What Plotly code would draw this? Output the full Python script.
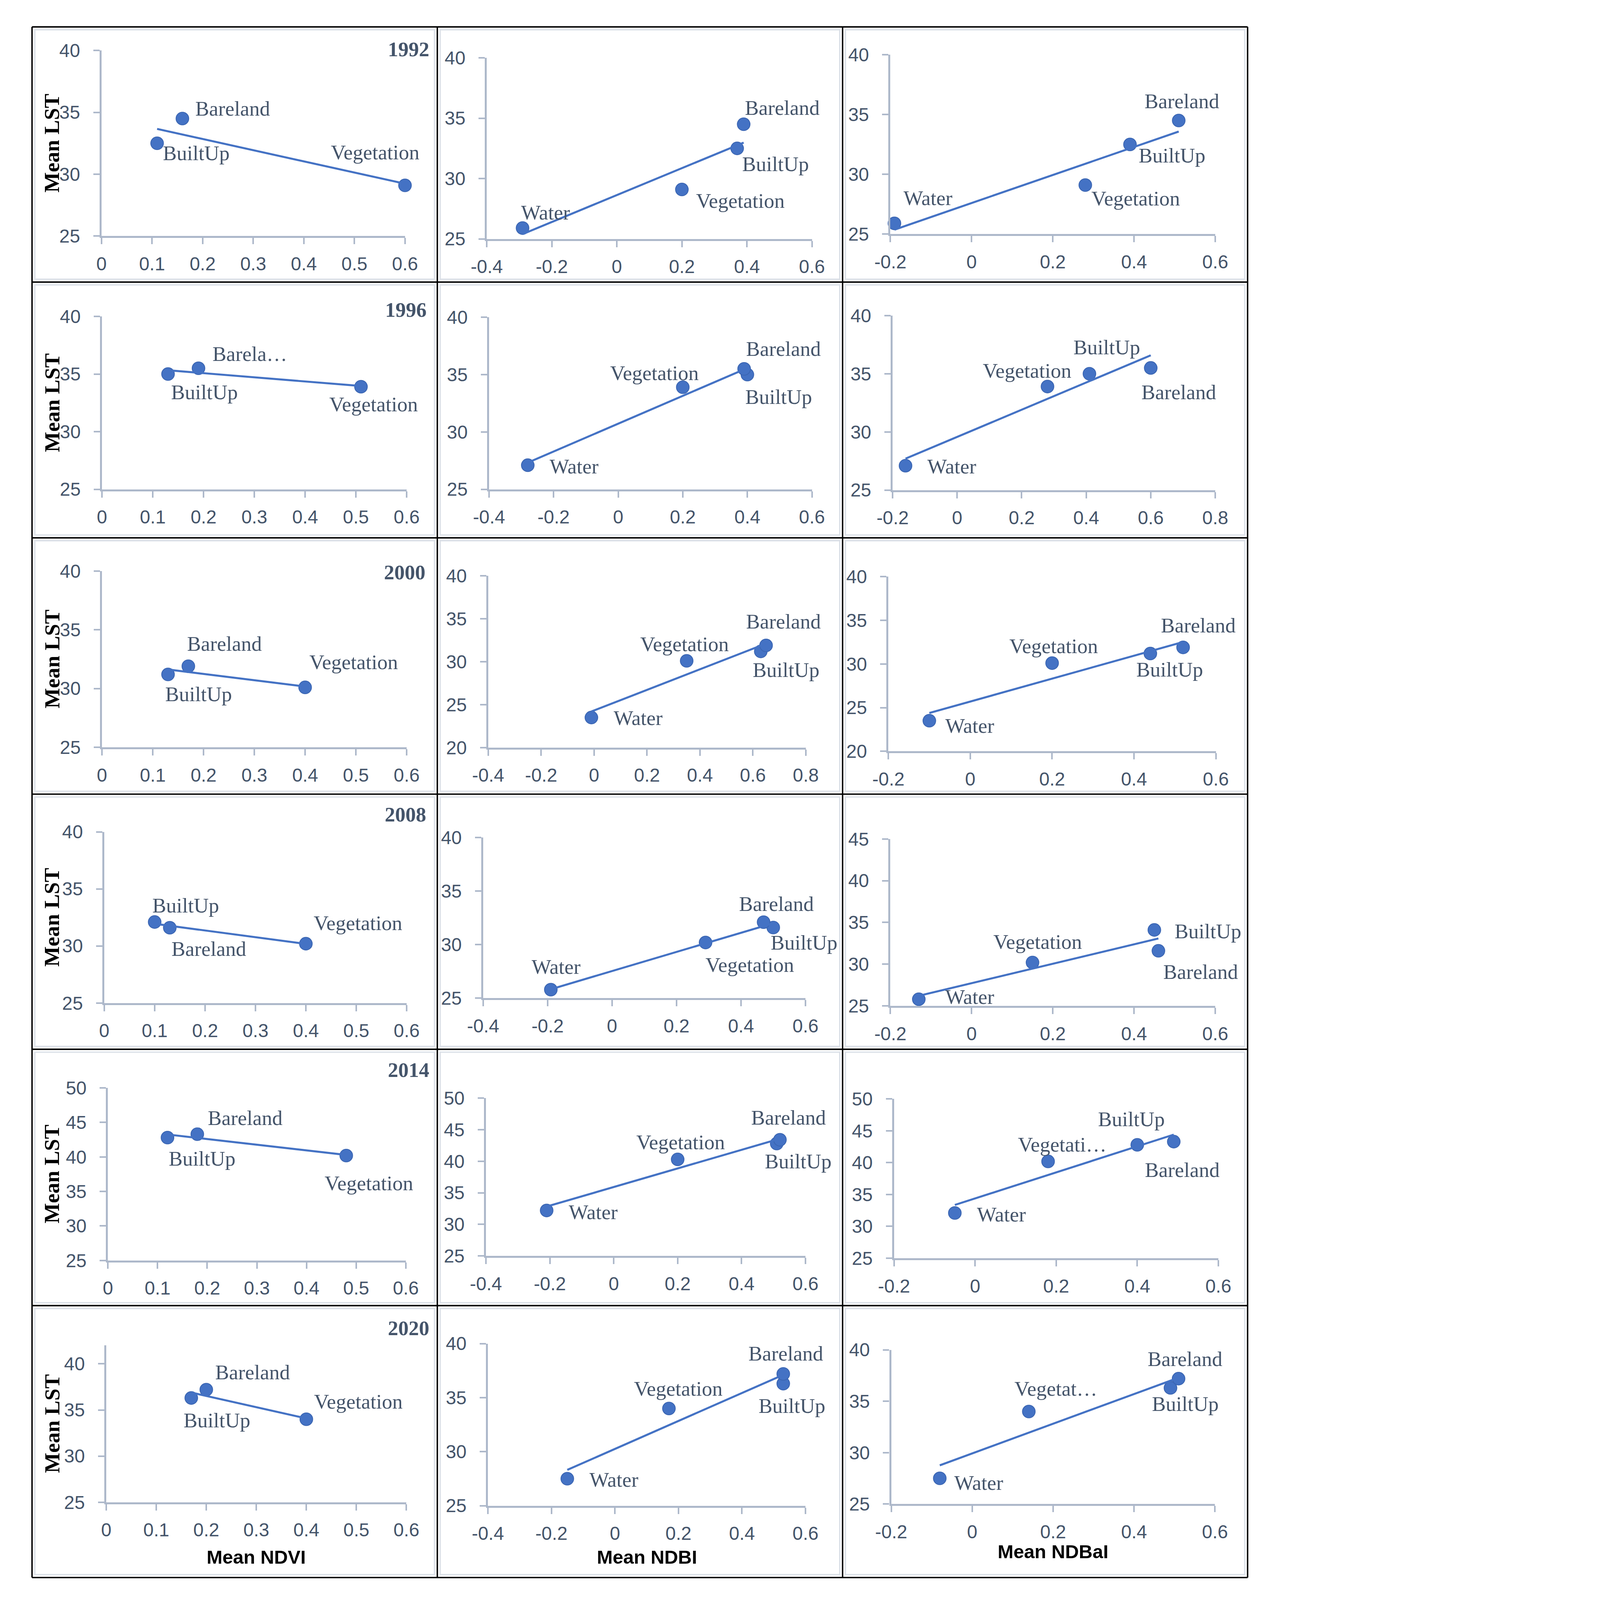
import numpy as np
import plotly.graph_objects as go

# ---------------- data ----------------
years = ["1992", "1996", "2000", "2008", "2014", "2020"]

# NDVI panels: order BuiltUp, Bareland, Vegetation
ndvi_x = [[0.11, 0.16, 0.60], [0.13, 0.19, 0.51], [0.13, 0.17, 0.40],
          [0.10, 0.13, 0.40], [0.12, 0.18, 0.48], [0.17, 0.20, 0.40]]
ndvi_lst = [[32.5, 34.5, 29.1], [35.0, 35.5, 33.9], [31.2, 31.9, 30.1],
            [32.1, 31.6, 30.2], [42.8, 43.3, 40.2], [36.3, 37.2, 34.0]]
ndvi_text = [["BuiltUp", "Bareland", "Vegetation"], ["BuiltUp", "Barela…", "Vegetation"],
             ["BuiltUp", "Bareland", "Vegetation"], ["BuiltUp", "Bareland", "Vegetation"],
             ["BuiltUp", "Bareland", "Vegetation"], ["BuiltUp", "Bareland", "Vegetation"]]

# NDBI panels: order Water, Vegetation, BuiltUp, Bareland
ndbi_x = [[-0.29, 0.20, 0.37, 0.39], [-0.28, 0.20, 0.40, 0.39], [-0.01, 0.35, 0.63, 0.65],
          [-0.19, 0.29, 0.50, 0.47], [-0.21, 0.20, 0.51, 0.52], [-0.15, 0.17, 0.53, 0.53]]
ndbi_lst = [[25.9, 29.1, 32.5, 34.5], [27.1, 33.9, 35.0, 35.5], [23.5, 30.1, 31.2, 31.9],
            [25.8, 30.2, 31.6, 32.1], [32.2, 40.3, 42.8, 43.4], [27.5, 34.0, 36.3, 37.2]]
ndbi_text = [["Water", "Vegetation", "BuiltUp", "Bareland"]] * 6

# NDBaI panels: order Water, Vegetation, BuiltUp, Bareland
ndbai_x = [[-0.19, 0.28, 0.39, 0.51], [-0.16, 0.28, 0.41, 0.60], [-0.10, 0.20, 0.44, 0.52],
           [-0.13, 0.15, 0.45, 0.46], [-0.05, 0.18, 0.40, 0.49], [-0.08, 0.14, 0.49, 0.51]]
ndbai_lst = [[25.9, 29.1, 32.5, 34.5], [27.1, 33.9, 35.0, 35.5], [23.5, 30.1, 31.2, 31.9],
             [25.8, 30.2, 34.1, 31.6], [32.1, 40.2, 42.8, 43.3], [27.5, 34.0, 36.3, 37.2]]
ndbai_text = [["Water", "Vegetation", "BuiltUp", "Bareland"],
              ["Water", "Vegetation", "BuiltUp", "Bareland"],
              ["Water", "Vegetation", "BuiltUp", "Bareland"],
              ["Water", "Vegetation", "BuiltUp", "Bareland"],
              ["Water", "Vegetati…", "BuiltUp", "Bareland"],
              ["Water", "Vegetat…", "BuiltUp", "Bareland"]]

x_titles = ["Mean NDVI", "Mean NDBI", "Mean NDBaI"]
y_title = "Mean LST"

x_ranges = [
    [[0, 0.6], [-0.4, 0.6], [-0.2, 0.6]],
    [[0, 0.6], [-0.4, 0.6], [-0.2, 0.8]],
    [[0, 0.6], [-0.4, 0.8], [-0.2, 0.6]],
    [[0, 0.6], [-0.4, 0.6], [-0.2, 0.6]],
    [[0, 0.6], [-0.4, 0.6], [-0.2, 0.6]],
    [[0, 0.6], [-0.4, 0.6], [-0.2, 0.6]],
]
x_dticks = [0.1, 0.2, 0.2]
y_ranges = [
    [[25, 40], [25, 40], [25, 40]],
    [[25, 40], [25, 40], [25, 40]],
    [[25, 40], [20, 40], [20, 40]],
    [[25, 40], [25, 40], [25, 45]],
    [[25, 50], [25, 50], [25, 50]],
    [[25, 42], [25, 40], [25, 40]],
]
y_dtick = 5

# ---------------- layout / style ----------------
# positions below are in reference-image pixels (4442 x 5564); the figure is
# scaled uniformly so that it fits the 4096 px tall browser viewport.
W, H = 4442, 5564
S = 4096 / H
FIG_W, FIG_H = int(round(W * S)), int(round(H * S))

areas = [
    [[304, 1384, 142, 796], [1675, 2832, 168, 806], [3111, 4267, 157, 789]],
    [[306, 1390, 1079, 1688], [1683, 2832, 1082, 1688], [3119, 4267, 1076, 1691]],
    [[306, 1390, 1976, 2597], [1680, 2810, 1993, 2598], [3104, 4269, 1996, 2611]],
    [[314, 1390, 2895, 3498], [1662, 2809, 2915, 3481], [3111, 4267, 2920, 3508]],
    [[327, 1387, 3797, 4405], [1672, 2809, 3833, 4389], [3124, 4278, 3836, 4397]],
    [[321, 1389, 4704, 5257], [1679, 2809, 4698, 5269], [3114, 4266, 4720, 5263]],
]
ndvi_off = [[(136, 34), (175, -35), (-104, -115)],
            [(127, 63), (178, -50), (44, 61)],
            [(106, 68), (126, -78), (169, -88)],
            [(108, -58), (136, 74), (181, -72)],
            [(120, 73), (166, -56), (79, 96)],
            [(90, 78), (161, -60), (181, -61)]]
ndbi_off = [[(81, -54), (204, 39), (133, 55), (134, -57)],
            [(161, 4), (-98, -49), (109, 78), (137, -70)],
            [(163, 2), (-8, -58), (88, 65), (60, -83)],
            [(19, -80), (154, 78), (107, 52), (44, -64)],
            [(162, 6), (11, -60), (75, 62), (30, -77)],
            [(163, 3), (33, -69), (31, 78), (9, -71)]]
ndbai_off = [[(117, -88), (176, 46), (147, 38), (11, -67)],
             [(162, 2), (-71, -55), (60, -92), (97, 84)],
             [(141, 17), (6, -59), (68, 56), (53, -76)],
             [(178, -8), (18, -72), (187, 5), (146, 73)],
             [(163, 5), (49, -59), (-20, -90), (29, 98)],
             [(136, 16), (94, -80), (52, 55), (22, -68)]]
year_pos = [(1473, 138), (1464, 1055), (1459, 1981), (1462, 2834), (1473, 3733), (1473, 4643)]
xtitle_y = [5450, 5450, 5431]
col_edges = [57, 1499, 2941, 4382]
row_edges = [59, 958, 1859, 2762, 3661, 4564, 5522]

BLUE = "#4472C4"
AX = "#ADB8CA"
TXT = "#44546A"


def z(v):
    return v * S


def zi(v):
    return int(round(v * S))


TICKFONT = dict(family="Liberation Sans, Arial", size=z(65), color=TXT)
LABFONT = dict(family="Liberation Serif, Times New Roman", size=z(72), color=TXT)


def px_x(v):
    return v / W


def px_y(v):
    return 1 - v / H


fig = go.Figure()
layout = dict(width=FIG_W, height=FIG_H, margin=dict(l=0, r=0, t=0, b=0),
              paper_bgcolor="white", plot_bgcolor="white", showlegend=False)
annotations = []
shapes = []

panels = [(ndvi_x, ndvi_lst, ndvi_text, ndvi_off),
          (ndbi_x, ndbi_lst, ndbi_text, ndbi_off),
          (ndbai_x, ndbai_lst, ndbai_text, ndbai_off)]

for r in range(6):
    for c in range(3):
        n = r * 3 + c + 1
        xs = "" if n == 1 else str(n)
        xa, ya = "x" + xs, "y" + xs
        xd, yd, td, od = panels[c]
        px_ = np.array(xd[r], dtype=float)
        py_ = np.array(yd[r], dtype=float)
        L, R, T, B = areas[r][c]
        xr = x_ranges[r][c]
        yr = y_ranges[r][c]
        dt = x_dticks[c]
        xt = np.round(np.arange(xr[0], xr[1] + dt / 2, dt), 2)
        yt = np.arange(yr[0], yr[1] + 0.01, y_dtick)
        yt = yt[yt <= yr[1]]
        common = dict(showline=True, linecolor=AX, linewidth=z(7), ticks="outside",
                      ticklen=zi(22), tickwidth=z(6), tickcolor=AX, showgrid=False,
                      zeroline=False, tickfont=TICKFONT, fixedrange=True)
        layout["xaxis" + xs] = dict(domain=[px_x(L), px_x(R)], range=xr, anchor=ya,
                                    tickvals=list(xt), ticktext=[f"{v:g}" for v in xt],
                                    ticklabelstandoff=zi(12), **common)
        layout["yaxis" + xs] = dict(domain=[px_y(B), px_y(T)], range=yr, anchor=xa,
                                    tickvals=list(yt), ticktext=[f"{v:g}" for v in yt],
                                    ticklabelstandoff=zi(32), **common)
        fig.add_trace(go.Scatter(x=px_, y=py_, mode="markers", xaxis=xa, yaxis=ya,
                                 cliponaxis=False,
                                 marker=dict(size=z(44), color=BLUE,
                                             line=dict(color="#3B66B3", width=z(3))),
                                 hoverinfo="skip"))
        k, b0 = np.polyfit(px_, py_, 1)
        tx = np.array([px_.min(), px_.max()])
        fig.add_trace(go.Scatter(x=tx, y=k * tx + b0, mode="lines", xaxis=xa, yaxis=ya,
                                 cliponaxis=False, line=dict(color=BLUE, width=z(7)),
                                 hoverinfo="skip"))
        for xv, yv, t, (dx, dy) in zip(px_, py_, td[r], od[r]):
            annotations.append(dict(x=xv, y=yv, xref=xa, yref=ya, text=t, showarrow=False,
                                    xshift=z(dx), yshift=-z(dy), xanchor="center",
                                    yanchor="middle", font=LABFONT))
        shapes.append(dict(type="rect", xref="paper", yref="paper",
                           x0=px_x(col_edges[c] + 10), x1=px_x(col_edges[c + 1] - 10),
                           y0=px_y(row_edges[r + 1] - 10), y1=px_y(row_edges[r] + 10),
                           line=dict(color="#DDE2E9", width=z(5)), layer="below"))
        if c == 0:
            annotations.append(dict(x=px_x(128), y=px_y((T + B) / 2), xref="paper",
                                    yref="paper", text=y_title, textangle=-90,
                                    showarrow=False, xanchor="center", yanchor="middle",
                                    font=dict(family="Liberation Serif, Times New Roman",
                                              size=z(75), color="black", weight="bold")))
        if r == 5:
            annotations.append(dict(x=px_x((L + R) / 2), y=px_y(xtitle_y[c]), xref="paper",
                                    yref="paper", text=x_titles[c], showarrow=False,
                                    xanchor="center", yanchor="middle",
                                    font=dict(family="Liberation Sans, Arial", size=z(66),
                                              color="black", weight="bold")))
    yx, yy = year_pos[r]
    annotations.append(dict(x=px_x(yx), y=px_y(yy), xref="paper", yref="paper",
                            text=years[r], showarrow=False, xanchor="right",
                            yanchor="middle",
                            font=dict(family="Liberation Serif, Times New Roman", size=z(72),
                                      color=TXT, weight="bold")))

for xe in col_edges:
    shapes.append(dict(type="line", xref="paper", yref="paper", x0=px_x(xe), x1=px_x(xe),
                       y0=px_y(row_edges[-1]), y1=px_y(row_edges[0]),
                       line=dict(color="black", width=z(5))))
for ye in row_edges:
    shapes.append(dict(type="line", xref="paper", yref="paper", x0=px_x(col_edges[0]),
                       x1=px_x(col_edges[-1]), y0=px_y(ye), y1=px_y(ye),
                       line=dict(color="black", width=z(5))))

layout["annotations"] = annotations
layout["shapes"] = shapes
fig.update_layout(**layout)

fig.write_html("out.html", config={"displayModeBar": False},
               post_script="document.body.style.margin='0';")
